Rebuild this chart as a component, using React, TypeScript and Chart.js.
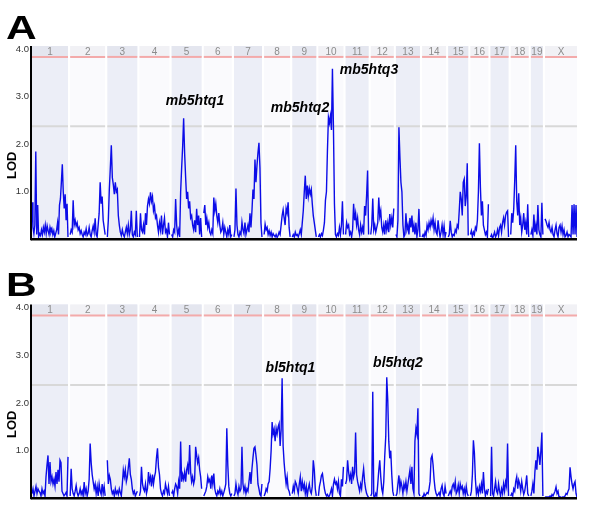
import React, { useEffect, useRef } from 'react';
import { Chart, registerables } from 'chart.js';

Chart.register(...registerables);

// ---------- data ----------
const chromosomes = ['1', '2', '3', '4', '5', '6', '7', '8', '9', '10', '11', '12', '13', '14', '15', '16', '17', '18', '19', 'X'];
// relative genetic lengths of the chromosomes (same units as the x axis)
const chrLengths = [36, 35, 30, 30, 30, 28, 28, 26, 24, 25, 23, 23, 24, 24, 20, 18, 18, 18, 12, 32];
const yTicks = [1, 2, 3, 4];
const suggestiveLOD = 2.38;
const significantLOD = 3.84;

// LOD scan, panel A (one row per chromosome, evenly spaced along the chromosome)
const lodScanA: number[][] = [
  [0.78, 0.25, 0.12, 0.3, 1.85, 0.1, 0.72, 0.05, 0.12, 0.08, 0.2, 0.1, 0.25, 0.15, 0.3, 0.12, 0.28, 0.18, 0.1, 0.25, 0.15, 0.22, 0.1, 0.18, 0.05, 0.12, 0.2, 0.35, 0.1, 0.72, 0.85, 1.2, 1.58, 1.0, 0.65, 0.95, 0.4, 0.75, 0.05],
  [0.1, 0.2, 0.15, 0.82, 0.3, 0.4, 0.28, 0.35, 0.2, 0.25, 0.12, 0.18, 0.1, 0.05, 0.15, 0.1, 0.22, 0.08, 0.12, 0.25, 0.1, 0.05, 0.18, 0.28, 0.15, 0.44, 0.1, 0.05, 0.3, 0.55, 1.2, 0.75, 0.9, 0.4, 0.25, 0.1],
  [0.05, 0.4, 1.05, 1.5, 1.98, 1.3, 1.15, 0.95, 1.2, 1.0, 1.05, 0.5, 0.3, 0.15, 0.08, 0.2, 0.1, 0.05, 0.15, 0.25, 0.12, 0.3, 0.1, 0.2, 0.6, 0.1, 0.05, 0.15, 0.1, 0.6, 0.05],
  [0.05, 0.55, 0.2, 0.15, 0.3, 0.1, 0.55, 0.3, 0.7, 0.85, 0.75, 0.99, 0.8, 0.9, 0.6, 0.7, 0.45, 0.5, 0.3, 0.15, 0.35, 0.2, 0.5, 0.1, 0.3, 0.45, 0.15, 0.2, 0.05, 0.35, 0.1],
  [0.1, 0.05, 0.2, 0.15, 0.85, 0.3, 0.1, 0.2, 0.05, 1.0, 1.5, 1.95, 2.55, 1.8, 1.3, 0.85, 1.0, 0.65, 0.8, 0.45, 0.5, 0.3, 0.2, 0.4, 0.15, 0.64, 0.3, 0.5, 0.1, 0.45, 0.05],
  [0.55, 0.72, 0.3, 0.45, 0.25, 0.35, 0.15, 0.1, 0.2, 0.12, 0.88, 0.6, 0.75, 0.5, 0.35, 0.55, 0.3, 0.15, 0.2, 0.35, 0.1, 0.25, 0.15, 0.05, 0.2, 0.1, 0.3, 0.05, 0.1],
  [0.05, 0.2, 1.07, 0.3, 0.1, 0.05, 0.15, 0.1, 0.36, 0.2, 0.12, 0.35, 0.1, 0.2, 0.3, 0.15, 0.55, 0.25, 0.6, 1.05, 0.85, 1.68, 1.2, 1.55, 1.82, 2.03, 1.5, 0.35, 0.05],
  [0.1, 0.32, 0.2, 0.25, 0.1, 0.18, 0.08, 0.15, 0.05, 0.12, 0.08, 0.05, 0.1, 0.04, 0.08, 0.15, 0.1, 0.3, 0.5, 0.62, 0.45, 0.3, 0.65, 0.55, 0.78, 0.25, 0.05],
  [0.05, 0.1, 0.05, 0.15, 0.08, 0.1, 0.05, 0.12, 0.2, 0.1, 0.35, 0.6, 1.0, 1.34, 0.85, 1.13, 0.9, 1.07, 0.95, 1.05, 0.75, 0.5, 0.35, 0.2, 0.05],
  [0.05, 0.1, 0.05, 0.12, 0.08, 0.2, 0.35, 0.82, 1.0, 1.87, 2.57, 2.45, 2.6, 2.3, 3.59, 2.36, 0.75, 0.1, 0.05, 0.12, 0.08, 0.25, 0.1, 0.3, 0.8, 0.1],
  [0.1, 0.35, 0.25, 0.3, 0.1, 0.15, 0.05, 0.2, 0.75, 0.4, 0.55, 0.3, 0.45, 0.2, 0.1, 0.3, 0.15, 0.25, 0.1, 0.7, 0.5, 0.92, 1.45, 0.1],
  [0.1, 0.3, 0.86, 0.2, 0.3, 0.15, 0.25, 0.35, 0.88, 0.48, 0.6, 0.25, 0.15, 0.3, 0.1, 0.4, 0.2, 0.35, 0.15, 0.53, 0.3, 0.45, 0.25, 0.65],
  [0.1, 0.05, 0.4, 2.36, 1.73, 1.2, 1.0, 0.3, 0.05, 0.1, 0.55, 0.2, 0.3, 0.1, 0.45, 0.25, 0.5, 0.15, 0.3, 0.1, 0.35, 0.05, 0.2, 0.64, 0.05],
  [0.05, 0.1, 0.05, 0.15, 0.08, 0.3, 0.2, 0.35, 0.25, 0.4, 0.3, 0.45, 0.2, 0.35, 0.15, 0.1, 0.4, 0.2, 0.05, 0.15, 0.3, 0.1, 0.28, 0.05, 0.15],
  [0.05, 0.1, 0.39, 0.15, 0.05, 0.1, 0.08, 0.2, 0.15, 0.3, 0.25, 0.6, 1.0, 0.85, 0.5, 1.2, 1.27, 0.7, 0.9, 1.6, 0.08],
  [0.1, 0.18, 0.05, 0.15, 0.1, 0.25, 0.2, 0.4, 0.99, 2.02, 1.1, 0.5, 0.8, 0.3, 0.2, 0.1, 0.15, 0.05, 0.74],
  [0.05, 0.1, 0.02, 0.08, 0.15, 0.05, 0.1, 0.2, 0.08, 0.25, 0.3, 0.15, 0.35, 0.45, 0.3, 0.5, 0.57, 0.6, 0.05],
  [0.1, 0.55, 0.35, 0.64, 1.24, 1.98, 0.8, 0.5, 0.97, 0.3, 0.45, 0.15, 0.3, 0.55, 0.2, 0.35, 0.1, 0.74, 0.05],
  [0.1, 0.2, 0.08, 0.52, 0.15, 0.3, 0.1, 0.72, 0.2, 0.1, 0.05, 0.77, 0.1],
  [0.43, 0.38, 0.3, 0.25, 0.35, 0.2, 0.15, 0.25, 0.1, 0.05, 0.2, 0.3, 0.12, 0.05, 0.25, 0.3, 0.15, 0.28, 0.1, 0.2, 0.05, 0.08, 0.15, 0.05, 0.1, 0.08, 0.05, 0.72, 0.1, 0.74, 0.1, 0.72, 0.05],
];

// LOD scan, panel B
const lodScanB: number[][] = [
  [0.1, 0.2, 0.05, 0.15, 0.25, 0.1, 0.2, 0.15, 0.12, 0.05, 0.2, 0.1, 0.15, 0.05, 0.45, 0.7, 0.9, 0.3, 0.76, 0.35, 0.45, 0.3, 0.4, 0.25, 0.55, 0.3, 0.6, 0.35, 0.8, 0.75, 0.15, 0.1, 0.05, 0.08, 0.12, 0.05, 0.87],
  [0.05, 0.62, 0.2, 0.1, 0.05, 0.15, 0.27, 0.12, 0.05, 0.1, 0.2, 0.08, 0.15, 0.05, 0.34, 0.1, 0.2, 0.05, 0.15, 0.4, 1.15, 0.75, 0.5, 0.35, 0.2, 0.3, 0.1, 0.25, 0.05, 0.3, 0.15, 0.08, 0.3, 0.1, 0.25, 0.05],
  [0.8, 0.3, 0.48, 0.4, 0.2, 0.1, 0.15, 0.05, 0.2, 0.1, 0.15, 0.08, 0.2, 0.12, 0.05, 0.3, 0.59, 0.45, 0.6, 0.35, 0.45, 0.65, 0.84, 0.5, 0.4, 0.2, 0.1, 0.15, 0.05, 0.1, 0.15],
  [0.05, 0.15, 0.66, 0.3, 0.2, 0.15, 0.3, 0.1, 0.2, 0.55, 0.35, 0.45, 0.25, 0.5, 0.3, 0.45, 0.55, 0.85, 1.05, 0.65, 0.5, 0.2, 0.1, 0.05, 0.15, 0.1, 0.3, 0.2, 0.1, 0.25, 0.05],
  [0.1, 0.15, 0.05, 0.2, 0.3, 0.25, 0.1, 0.35, 0.2, 1.19, 0.35, 0.5, 0.4, 0.55, 0.35, 0.6, 0.7, 0.5, 1.12, 0.55, 0.35, 0.45, 0.3, 0.4, 1.08, 0.9, 0.75, 0.85, 0.6, 0.45, 0.2],
  [0.05, 0.1, 0.15, 0.25, 0.45, 0.35, 0.4, 0.2, 0.48, 0.3, 0.52, 0.2, 0.1, 0.05, 0.15, 0.1, 0.2, 0.08, 0.15, 0.05, 0.12, 0.2, 0.3, 1.47, 0.7, 0.25, 0.1, 0.05, 0.1],
  [0.05, 0.1, 0.3, 0.15, 0.08, 0.25, 0.15, 0.2, 1.08, 0.3, 0.15, 0.25, 0.1, 0.2, 0.15, 0.35, 0.55, 0.3, 0.62, 0.85, 1.05, 1.08, 0.9, 0.7, 0.3, 0.2, 0.08, 0.05, 0.3],
  [0.05, 0.1, 0.2, 0.15, 0.3, 0.35, 0.62, 1.0, 1.6, 1.35, 1.45, 1.2, 1.47, 1.35, 1.5, 1.57, 1.1, 1.43, 2.52, 1.1, 0.75, 0.5, 0.3, 0.45, 0.2, 0.15, 0.05],
  [0.1, 0.25, 0.15, 0.35, 0.3, 0.2, 0.1, 0.3, 0.45, 0.15, 0.35, 0.2, 0.3, 0.1, 0.25, 0.05, 0.2, 0.3, 0.15, 0.1, 0.25, 0.8, 0.6, 0.2, 0.05],
  [0.05, 0.25, 0.35, 0.48, 0.52, 0.35, 0.2, 0.1, 0.05, 0.08, 0.03, 0.05, 0.12, 0.2, 0.05, 0.3, 0.4, 0.3, 0.34, 0.2, 0.35, 0.1, 0.05, 0.4, 0.25, 0.66],
  [0.3, 0.38, 0.8, 0.55, 0.4, 0.5, 0.3, 0.66, 0.45, 0.55, 1.38, 0.5, 0.35, 0.25, 0.15, 0.3, 0.2, 0.45, 0.62, 0.35, 0.2, 0.1, 0.05, 0.02],
  [0.05, 0.1, 2.24, 0.05, 0.02, 0.1, 0.05, 0.3, 0.59, 0.8, 0.45, 0.2, 0.1, 0.35, 0.9, 1.3, 2.54, 2.06, 1.2, 0.84, 1.0, 0.5, 0.15, 0.05],
  [0.05, 0.1, 0.3, 0.48, 0.2, 0.35, 0.25, 0.1, 0.3, 0.2, 0.35, 0.15, 0.3, 0.45, 0.59, 0.3, 0.66, 0.2, 0.1, 1.2, 1.47, 1.35, 1.89, 0.1, 0.05],
  [0.05, 0.03, 0.1, 0.05, 0.08, 0.12, 0.1, 0.2, 0.35, 0.84, 0.9, 0.7, 0.4, 0.2, 0.1, 0.05, 0.08, 0.12, 0.05, 0.2, 0.27, 0.1, 0.05, 0.25, 0.1],
  [0.05, 0.1, 0.15, 0.08, 0.25, 0.3, 0.2, 0.35, 0.1, 0.15, 0.28, 0.1, 0.3, 0.2, 0.25, 0.1, 0.2, 0.08, 0.25, 0.1, 0.05],
  [0.05, 0.15, 0.5, 1.22, 0.95, 0.4, 0.1, 0.2, 0.08, 0.25, 0.15, 0.3, 0.1, 0.55, 0.2, 0.05, 0.15, 0.1, 0.2],
  [0.05, 1.08, 0.1, 0.05, 0.2, 0.35, 0.15, 0.1, 0.3, 0.15, 0.05, 0.2, 0.1, 0.3, 0.15, 0.35, 0.25, 1.15, 0.05],
  [0.05, 0.1, 0.05, 0.2, 0.15, 0.35, 0.45, 0.2, 0.38, 0.3, 0.15, 0.35, 0.2, 0.08, 0.15, 0.3, 0.48, 0.1, 0.05],
  [0.05, 0.15, 0.3, 0.1, 0.55, 0.8, 0.6, 1.08, 0.9, 0.7, 1.0, 1.38, 0.05],
  [0.02, 0.03, 0.02, 0.03, 0.02, 0.05, 0.02, 0.08, 0.05, 0.1, 0.15, 0.24, 0.1, 0.15, 0.02, 0.03, 0.02, 0.02, 0.03, 0.02, 0.05, 0.1, 0.08, 0.15, 0.2, 0.65, 0.45, 0.3, 0.2, 0.3, 0.35, 0.1, 0.02],
];

// QTL labels: genome position (x-axis units) and LOD height of the label
const qtlLabelsA = [
  { text: 'mb5htq1', x: 164, y: 2.9 },
  { text: 'mb5htq2', x: 269, y: 2.76 },
  { text: 'mb5htq3', x: 338, y: 3.56 },
];
const qtlLabelsB = [
  { text: 'bl5htq1', x: 259.5, y: 2.74 },
  { text: 'bl5htq2', x: 367, y: 2.84 },
];

// ---------- layout ----------
const GENOME_START = 1;
const CHR_GAP = 2.16;
const X_MAX = 546;
const Y_MAX = 4.07;

const chrStarts: number[] = [];
{
  let pos = GENOME_START;
  chrLengths.forEach((len) => {
    chrStarts.push(pos);
    pos += len + CHR_GAP;
  });
}

function buildPoints(scan: number[][]) {
  const pts: { x: number; y: number | null }[] = [];
  scan.forEach((vals, i) => {
    const s = chrStarts[i];
    const L = chrLengths[i];
    vals.forEach((v, j) => pts.push({ x: s + (j * L) / (vals.length - 1), y: v }));
    pts.push({ x: s + L + CHR_GAP / 2, y: null });
  });
  return pts;
}

const genomePlugin = {
  id: 'genomeDecor',
  beforeDatasetsDraw(chart: any) {
    const { ctx, chartArea, scales } = chart;
    const { top, bottom } = chartArea;
    const x = scales.x;
    const y = scales.y;
    const yRed = y.getPixelForValue(significantLOD);
    const yGray = y.getPixelForValue(suggestiveLOD);
    ctx.save();
    chrStarts.forEach((s, i) => {
      const x0 = x.getPixelForValue(s);
      const x1 = x.getPixelForValue(s + chrLengths[i]);
      const odd = i % 2 === 0;
      ctx.fillStyle = odd ? '#eceef7' : '#fafafd';
      ctx.fillRect(x0, top, x1 - x0, bottom - top);
      ctx.fillStyle = odd ? '#e4e6ef' : '#f1f1f5';
      ctx.fillRect(x0, top, x1 - x0, yRed - top);
      ctx.lineWidth = 2;
      ctx.strokeStyle = '#f3aaaa';
      ctx.beginPath();
      ctx.moveTo(x0, yRed);
      ctx.lineTo(x1, yRed);
      ctx.stroke();
      ctx.strokeStyle = '#d8d8d8';
      ctx.beginPath();
      ctx.moveTo(x0, yGray);
      ctx.lineTo(x1, yGray);
      ctx.stroke();
      ctx.fillStyle = '#8c8c8c';
      ctx.font = '10px Arial, "Liberation Sans", sans-serif';
      ctx.textAlign = 'center';
      ctx.textBaseline = 'middle';
      ctx.fillText(chromosomes[i], (x0 + x1) / 2, (top + yRed) / 2 + 0.5);
    });
    ctx.restore();
  },
  afterDraw(chart: any) {
    const { ctx, chartArea, scales } = chart;
    const { top, bottom, left, right } = chartArea;
    const opts = chart.options.plugins.genomeDecor;
    ctx.save();
    // axes
    ctx.strokeStyle = '#000';
    ctx.lineWidth = 2;
    ctx.beginPath();
    ctx.moveTo(left, top);
    ctx.lineTo(left, bottom + 1);
    ctx.stroke();
    ctx.lineWidth = 2.5;
    ctx.beginPath();
    ctx.moveTo(left, bottom);
    ctx.lineTo(right, bottom);
    ctx.stroke();
    // LOD axis title
    ctx.fillStyle = '#000';
    ctx.save();
    ctx.translate(12, bottom - 74);
    ctx.rotate(-Math.PI / 2);
    ctx.font = 'bold 13px Arial, "Liberation Sans", sans-serif';
    ctx.textAlign = 'center';
    ctx.textBaseline = 'middle';
    ctx.fillText('LOD', 0, 0);
    ctx.restore();
    // QTL labels
    ctx.font = 'italic bold 14px Arial, "Liberation Sans", sans-serif';
    ctx.textAlign = 'center';
    ctx.textBaseline = 'middle';
    opts.labels.forEach((l: any) => {
      ctx.fillText(l.text, scales.x.getPixelForValue(l.x), scales.y.getPixelForValue(l.y));
    });
    // panel letter
    ctx.save();
    ctx.translate(6, opts.letterBaseline);
    ctx.scale(1.25, 1);
    ctx.font = 'bold 34px Arial, "Liberation Sans", sans-serif';
    ctx.textAlign = 'left';
    ctx.textBaseline = 'alphabetic';
    ctx.fillText(opts.letter, 0, 0);
    ctx.restore();
    ctx.restore();
  },
};

function LodPanel(props: {
  scan: number[][];
  labels: { text: string; x: number; y: number }[];
  letter: string;
  height: number;
  padTop: number;
  padBottom: number;
  letterBaseline: number;
}) {
  const ref = useRef<HTMLCanvasElement | null>(null);
  useEffect(() => {
    if (!ref.current) return;
    const chart = new Chart(ref.current, {
      type: 'line',
      data: {
        datasets: [
          {
            data: buildPoints(props.scan) as any,
            borderColor: '#0c0ce8',
            borderWidth: 1.4,
            pointRadius: 0,
            tension: 0,
            spanGaps: false,
            fill: false,
          },
        ],
      },
      options: {
        animation: false,
        responsive: false,
        maintainAspectRatio: false,
        events: [],
        layout: { padding: { top: props.padTop, right: 23, bottom: props.padBottom, left: 0 } },
        plugins: {
          legend: { display: false },
          tooltip: { enabled: false },
          genomeDecor: { labels: props.labels, letter: props.letter, letterBaseline: props.letterBaseline },
        } as any,
        scales: {
          x: { type: 'linear', min: 0, max: X_MAX, display: false },
          y: {
            type: 'linear',
            min: 0,
            max: Y_MAX,
            afterFit: (s: any) => {
              s.width = 31;
            },
            afterBuildTicks: (s: any) => {
              s.ticks = yTicks.map((v) => ({ value: v }));
            },
            grid: { display: false, drawTicks: false },
            border: { display: false },
            ticks: {
              padding: 2,
              color: '#333',
              font: { family: 'Arial, "Liberation Sans", sans-serif', size: 9.5 },
              callback: (v: any) => Number(v).toFixed(1),
            },
          },
        },
      },
      plugins: [genomePlugin],
    });
    return () => chart.destroy();
  }, []);
  return <canvas ref={ref} width={600} height={props.height} style={{ display: 'block', width: 600, height: props.height }} />;
}

export default function App() {
  return (
    <div style={{ position: 'absolute', left: 0, top: 0, width: 600, height: 511, background: '#fff' }}>
      <LodPanel scan={lodScanA} labels={qtlLabelsA} letter="A" height={255} padTop={46} padBottom={15.7} letterBaseline={39} />
      <LodPanel scan={lodScanB} labels={qtlLabelsB} letter="B" height={256} padTop={49.5} padBottom={12.7} letterBaseline={41} />
    </div>
  );
}
